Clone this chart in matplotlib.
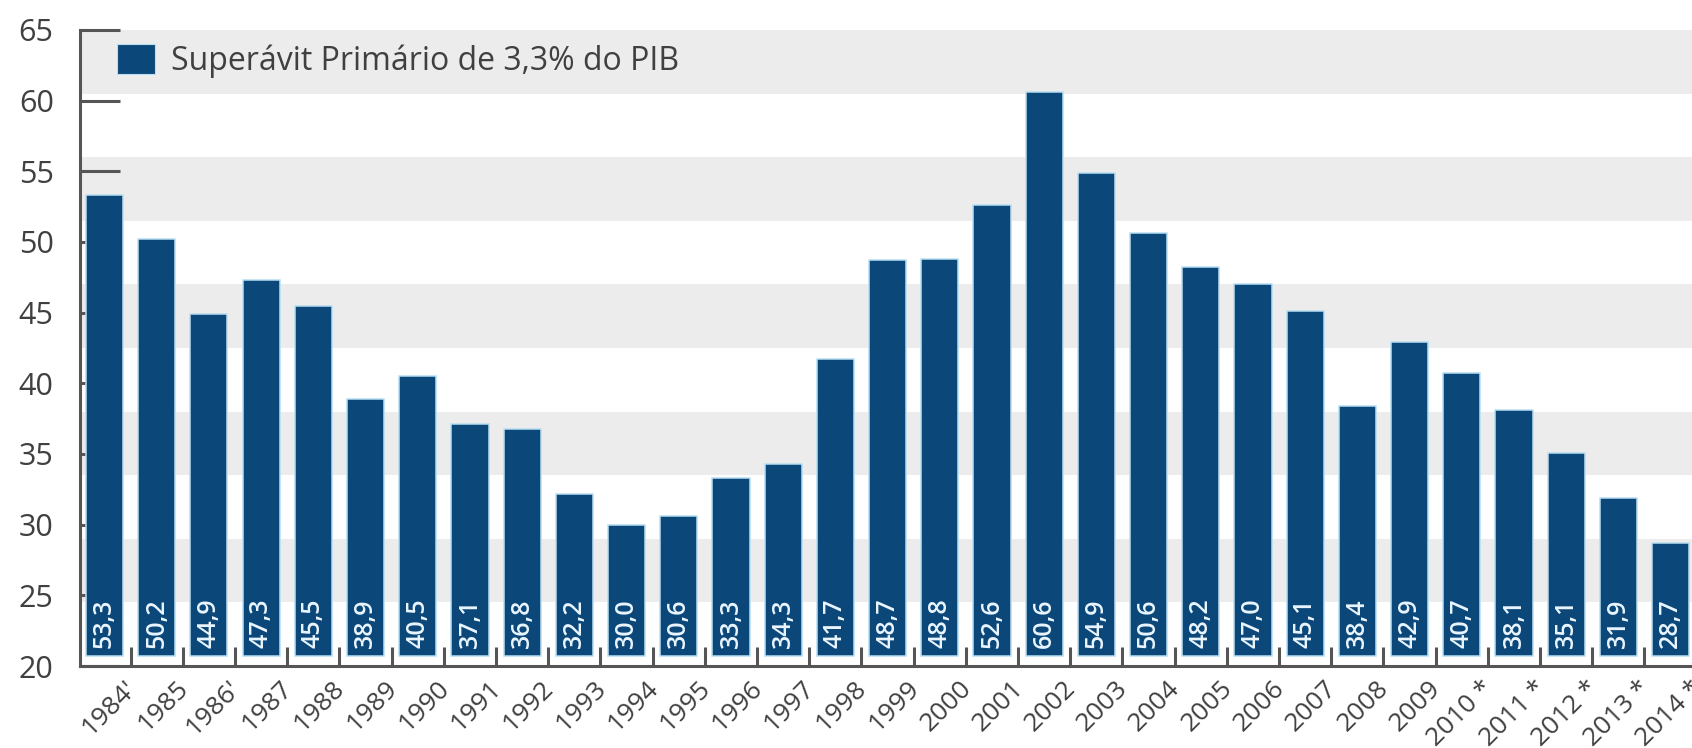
import matplotlib
matplotlib.use("Agg")
import matplotlib.pyplot as plt
from matplotlib.patches import Patch
from matplotlib.transforms import ScaledTranslation
import numpy as np

plt.rcParams["font.family"] = ["Open Sans", "DejaVu Sans"]

# Data
anos = ["1984'", "1985", "1986'", "1987", "1988", "1989", "1990", "1991",
        "1992", "1993", "1994", "1995", "1996", "1997", "1998", "1999",
        "2000", "2001", "2002", "2003", "2004", "2005", "2006", "2007",
        "2008", "2009", "2010 *", "2011 *", "2012 *", "2013 *", "2014 *"]
valores = [53.3, 50.2, 44.9, 47.3, 45.5, 38.9, 40.5, 37.1, 36.8, 32.2,
           30.0, 30.6, 33.3, 34.3, 41.7, 48.7, 48.8, 52.6, 60.6, 54.9,
           50.6, 48.2, 47.0, 45.1, 38.4, 42.9, 40.7, 38.1, 35.1, 31.9, 28.7]
y_ticks = [20, 25, 30, 35, 40, 45, 50, 55, 60, 65]
legenda = "Superávit Primário de 3,3% do PIB"

BAR_COLOR = "#0B4779"
EDGE_COLOR = "#b8def2"
AXIS_COLOR = "#555555"
TEXT_COLOR = "#404040"
BAND_COLOR = "#ececec"
BASE = 20.7

fig = plt.figure(figsize=(16.92, 7.48), dpi=100)
ax = fig.add_axes([0.0473, 0.1096, 0.9527, 0.8504])

x = np.arange(len(valores))

# faixas cinza do fundo
band_edges = np.arange(20, 65.01, 4.5)
for i in range(len(band_edges) - 1):
    if i % 2 == 1:
        ax.axhspan(band_edges[i], band_edges[i + 1], color=BAND_COLOR, zorder=0, lw=0)

ax.bar(x, np.array(valores) - BASE, bottom=BASE, width=0.71,
       color=BAR_COLOR, edgecolor=EDGE_COLOR, linewidth=1.1, zorder=2)

for xi, v in zip(x, valores):
    ax.text(xi, BASE + 0.6, f"{v:.1f}".replace(".", ","), rotation=90,
            ha="center", va="bottom", color="#eaf6ff", fontsize=18,
            fontweight="semibold", zorder=3)

ax.set_xlim(-0.47, 30.41)
ax.set_ylim(20, 65)

ax.set_axisbelow(True)
ax.set_yticks(y_ticks)
ax.set_yticklabels([str(t) for t in y_ticks])
ax.tick_params(axis="y", direction="in", length=29, width=2.2, color=AXIS_COLOR,
               labelsize=22, labelcolor=TEXT_COLOR, pad=19)

ax.set_xticks(x)
ax.set_xticklabels(anos, rotation=45, ha="right", rotation_mode="anchor")
ax.tick_params(axis="x", which="major", length=0, labelsize=19,
               labelcolor=TEXT_COLOR, pad=7)
offset = ScaledTranslation(19 / 100, 0, fig.dpi_scale_trans)
for lbl in ax.get_xticklabels():
    lbl.set_transform(lbl.get_transform() + offset)

ax.set_xticks(x[:-1] + 0.5, minor=True)
ax.tick_params(axis="x", which="minor", direction="in", length=13.5, width=2.2,
               color=AXIS_COLOR)

for side in ["top", "right"]:
    ax.spines[side].set_visible(False)
for side in ["left", "bottom"]:
    ax.spines[side].set_color(AXIS_COLOR)
    ax.spines[side].set_linewidth(2.2)
    ax.spines[side].set_zorder(4)

handle = Patch(facecolor=BAR_COLOR, edgecolor=EDGE_COLOR, linewidth=0.8)
leg = ax.legend([handle], [legenda], loc="center left",
                bbox_to_anchor=(0.023, 0.951), frameon=False, fontsize=23,
                handlelength=1.2, handleheight=1.05, handletextpad=0.5,
                borderaxespad=0, borderpad=0)
for t in leg.get_texts():
    t.set_color(TEXT_COLOR)

fig.savefig("out.png", dpi=100)
